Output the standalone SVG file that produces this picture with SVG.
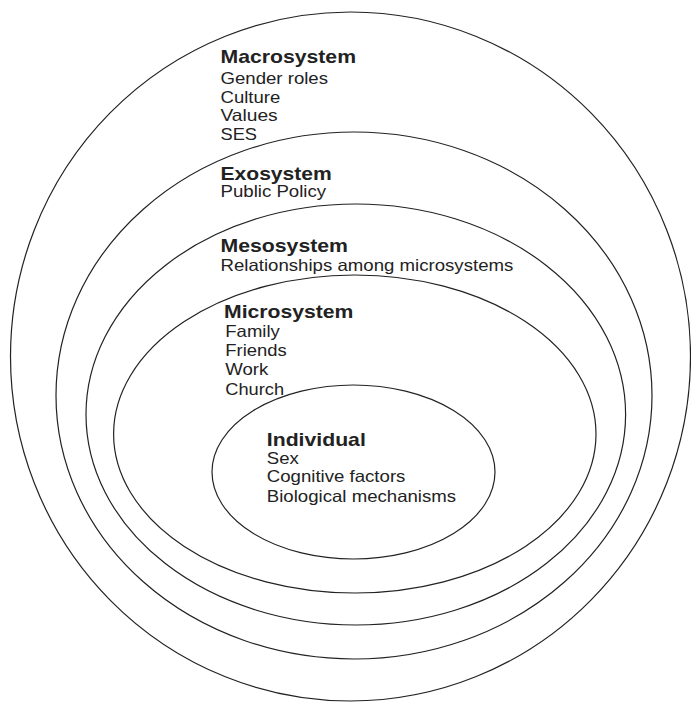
<svg xmlns="http://www.w3.org/2000/svg" width="691" height="703" viewBox="0 0 691 703">
<style>
.ring{fill:none;stroke:#222;stroke-width:1.2}
.t{font-family:"Liberation Sans",Arial,Helvetica,sans-serif;fill:#222}
.h{font-size:19px;font-weight:bold}
.r{font-size:16.5px}
</style>
<rect width="691" height="703" fill="#fff"/>
<g id="connectors"></g>
<g id="macrosystem">
<ellipse class="ring" cx="350.5" cy="356.5" rx="340" ry="344.5"/>
<text class="t h" x="220.5" y="63.3" textLength="135.5" lengthAdjust="spacingAndGlyphs">Macrosystem</text>
<text class="t r" x="220.5" y="84" textLength="107.5" lengthAdjust="spacingAndGlyphs">Gender roles</text>
<text class="t r" x="220.5" y="102.6" textLength="59.8" lengthAdjust="spacingAndGlyphs">Culture</text>
<text class="t r" x="220.5" y="121" textLength="57.2" lengthAdjust="spacingAndGlyphs">Values</text>
<text class="t r" x="220.5" y="139.5" textLength="36.5" lengthAdjust="spacingAndGlyphs">SES</text>
</g>
<g id="exosystem">
<ellipse class="ring" cx="354" cy="395.5" rx="298" ry="263.5"/>
<text class="t h" x="220.5" y="179.6" textLength="111.3" lengthAdjust="spacingAndGlyphs">Exosystem</text>
<text class="t r" x="220.5" y="197" textLength="105.6" lengthAdjust="spacingAndGlyphs">Public Policy</text>
</g>
<g id="mesosystem">
<ellipse class="ring" cx="355.8" cy="414.5" rx="269.8" ry="210.5"/>
<text class="t h" x="220.5" y="251.7" textLength="127.5" lengthAdjust="spacingAndGlyphs">Mesosystem</text>
<text class="t r" x="220.5" y="271.2" textLength="292.8" lengthAdjust="spacingAndGlyphs">Relationships among microsystems</text>
</g>
<g id="microsystem">
<ellipse class="ring" cx="354.8" cy="434" rx="241.2" ry="159"/>
<text class="t h" x="224" y="317.7" textLength="129.4" lengthAdjust="spacingAndGlyphs">Microsystem</text>
<text class="t r" x="225.3" y="336.7" textLength="54.5" lengthAdjust="spacingAndGlyphs">Family</text>
<text class="t r" x="225.3" y="355.7" textLength="61.5" lengthAdjust="spacingAndGlyphs">Friends</text>
<text class="t r" x="225.3" y="375" textLength="43" lengthAdjust="spacingAndGlyphs">Work</text>
<text class="t r" x="225.3" y="395" textLength="58.8" lengthAdjust="spacingAndGlyphs">Church</text>
</g>
<g id="individual">
<ellipse class="ring" cx="353.5" cy="472" rx="141.5" ry="87"/>
<text class="t h" x="266.8" y="445.7" textLength="99" lengthAdjust="spacingAndGlyphs">Individual</text>
<text class="t r" x="266.8" y="464" textLength="32" lengthAdjust="spacingAndGlyphs">Sex</text>
<text class="t r" x="266.8" y="482" textLength="138.6" lengthAdjust="spacingAndGlyphs">Cognitive factors</text>
<text class="t r" x="266.8" y="501.7" textLength="189.3" lengthAdjust="spacingAndGlyphs">Biological mechanisms</text>
</g>
</svg>
